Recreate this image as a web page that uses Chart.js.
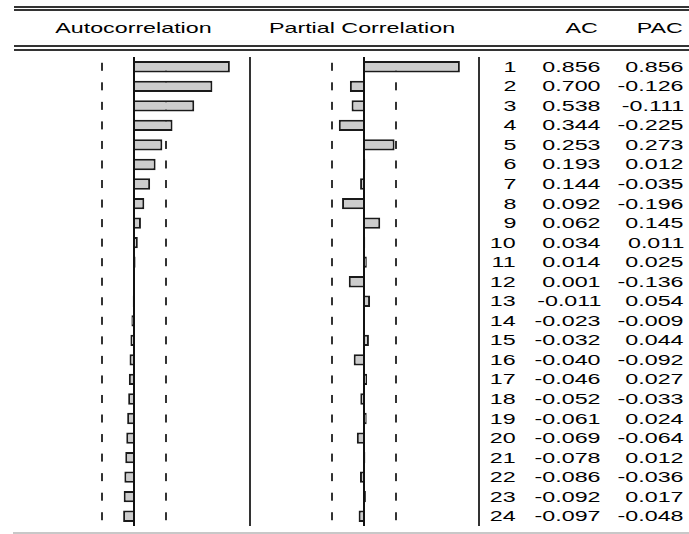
<!DOCTYPE html>
<html>
<head>
<meta charset="utf-8">
<script src="https://cdn.jsdelivr.net/npm/chart.js@4"></script>
<style>
  body { margin: 0; background: #fff; }
  #page { position: relative; width: 689px; height: 534px; overflow: hidden; font-family: "Liberation Sans", Arial, sans-serif; color: #000; }
  .rule { position: absolute; background: #333; }
  .cell { position: absolute; height: 16px; line-height: 16px; font-size: 15px; white-space: nowrap; }
  .cell span { display: inline-block; transform: scaleX(1.55); }
  .r { text-align: right; }
  .r span { transform-origin: right center; }
  .c { text-align: center; }
  .c span { transform-origin: center center; }
  canvas { position: absolute; }
</style>
</head>
<body>
<div id="page">
  <canvas id="acChart" width="224" height="469" style="left:22px;top:57px;width:224px;height:469px"></canvas>
  <canvas id="pacChart" width="224" height="469" style="left:252px;top:57px;width:224px;height:469px"></canvas>
</div>
<script>
const lags = [1, 2, 3, 4, 5, 6, 7, 8, 9, 10, 11, 12, 13, 14, 15, 16, 17, 18, 19, 20, 21, 22, 23, 24];
const acValues = [0.856, 0.700, 0.538, 0.344, 0.253, 0.193, 0.144, 0.092, 0.062, 0.034, 0.014, 0.001,
  -0.011, -0.023, -0.032, -0.040, -0.046, -0.052, -0.061, -0.069, -0.078, -0.086, -0.092, -0.097];
const pacValues = [0.856, -0.126, -0.111, -0.225, 0.273, 0.012, -0.035, -0.196, 0.145, 0.011, 0.025, -0.136,
  0.054, -0.009, 0.044, -0.092, 0.027, -0.033, 0.024, -0.064, 0.012, -0.036, 0.017, -0.048];
const bound = 0.2828; // 2/sqrt(T)

const page = document.getElementById("page");

function addRule(x, y, w, h, color) {
  let d = document.createElement("div");
  d.className = "rule";
  d.style.left = x + "px";
  d.style.top = y + "px";
  d.style.width = w + "px";
  d.style.height = h + "px";
  if (color) d.style.background = color;
  page.appendChild(d);
}

function addText(text, cls, edge, centerY) {
  let d = document.createElement("div");
  d.className = "cell " + cls;
  d.style.top = (centerY - 8) + "px";
  if (cls === "r") {
    d.style.right = (689 - edge) + "px";
  } else {
    d.style.left = (edge - 150) + "px";
    d.style.width = "300px";
  }
  let s = document.createElement("span");
  s.textContent = text;
  d.appendChild(s);
  page.appendChild(d);
}

// table rules
addRule(14, 6, 675, 2);
addRule(14, 9, 675, 2);
addRule(14, 45, 675, 2);
addRule(14, 49, 675, 2);
addRule(13, 532, 676, 2, "#c8c8c8");
addRule(249, 57, 2, 469);
addRule(478, 57, 2, 469);

// headers
addText("Autocorrelation", "c", 133, 28);
addText("Partial Correlation", "c", 362, 28);
addText("AC", "r", 598, 28);
addText("PAC", "r", 683, 28);

// rows
const rowTop = 57, rowH = 469 / lags.length;
lags.forEach((lag, i) => {
  let cy = rowTop + rowH * (i + 0.5);
  addText(String(lag), "r", 516, cy);
  addText(acValues[i].toFixed(3), "r", 601, cy);
  addText(pacValues[i].toFixed(3), "r", 684, cy);
});

const guides = {
  id: "guides",
  beforeDatasetsDraw(chart) {
    const c = chart.ctx, x = chart.scales.x, y = chart.scales.y;
    c.save();
    c.fillStyle = "#333";
    lags.forEach((lag, i) => {
      let cy = y.getPixelForValue(i);
      [-bound, bound].forEach((b) => {
        c.fillRect(Math.round(x.getPixelForValue(b)) - 1, cy - 4, 2, 8);
      });
    });
    c.restore();
  },
  afterDatasetsDraw(chart) {
    const c = chart.ctx, x = chart.scales.x;
    c.save();
    c.fillStyle = "#111";
    c.fillRect(Math.round(x.getPixelForValue(0)) - 1, 0, 2, chart.height);
    c.restore();
  }
};

function makeChart(id, values) {
  return new Chart(document.getElementById(id).getContext("2d"), {
    type: "bar",
    data: {
      labels: lags,
      datasets: [
        {
          data: values,
          backgroundColor: "#cccccc",
          borderColor: "#1a1a1a",
          borderWidth: 2,
          barPercentage: 0.58,
          categoryPercentage: 1,
        },
      ],
    },
    options: {
      indexAxis: "y",
      responsive: false,
      animation: false,
      layout: { padding: 0 },
      plugins: { legend: { display: false }, tooltip: { enabled: false } },
      scales: {
        x: { min: -1, max: 1, display: false },
        y: { display: false },
      },
    },
    plugins: [guides],
  });
}

const acChart = makeChart("acChart", acValues);
const pacChart = makeChart("pacChart", pacValues);
</script>
</body>
</html>
